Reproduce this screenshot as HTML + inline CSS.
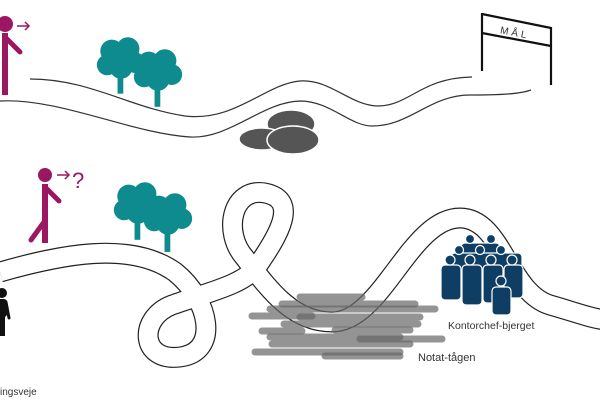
<!DOCTYPE html>
<html><head><meta charset="utf-8"><style>
html,body{margin:0;padding:0;background:#fff;}
svg{display:block;font-family:"Liberation Sans",sans-serif;}
</style></head><body>
<svg width="600" height="403" viewBox="0 0 600 403">
<!-- top road -->
<g fill="none" stroke="#333" stroke-width="1.2">
<path d="M30,79 C90,79 130,108 185,116 C235,122 265,84 300,81 C330,79 350,105 377,106 C410,106 420,78 472,77"/>
<path d="M0,101 C60,98 130,133 190,137 C230,139 262,102 300,101 C330,101 350,126 372,126 C410,126 430,95 470,95 C500,95 520,94 531,90"/>
</g>
<!-- sign -->
<g stroke="#111" stroke-width="2.2" fill="none">
<line x1="482" y1="13" x2="482" y2="71"/>
<line x1="551" y1="27" x2="551" y2="85"/>
<line x1="482" y1="14" x2="551" y2="28"/>
<line x1="482" y1="33" x2="551" y2="46"/>
</g>
<text x="515" y="36" font-size="10" fill="#333" letter-spacing="3" text-anchor="middle" transform="rotate(11 515 32)">MÅL</text>
<!-- rocks -->
<g fill="#555" stroke="#fff" stroke-width="1.5">
<ellipse cx="291" cy="124" rx="24" ry="14"/>
<ellipse cx="262" cy="139" rx="23" ry="11"/>
<ellipse cx="293" cy="140" rx="26" ry="14"/>
</g>
<!-- trees -->
<g fill="#0e8b8e">
<g transform="translate(121,58) scale(1.15)">
<circle cx="-8" cy="-6" r="10"/><circle cx="6" cy="-8" r="10"/><circle cx="12" cy="4" r="9"/><circle cx="-12" cy="6" r="9"/><circle cx="0" cy="8" r="10"/><circle cx="0" cy="-2" r="12"/>
<rect x="-3" y="10" width="5" height="21"/>
</g>
<g transform="translate(158,70) scale(1.15)">
<circle cx="-8" cy="-6" r="10"/><circle cx="6" cy="-8" r="10"/><circle cx="12" cy="4" r="9"/><circle cx="-12" cy="6" r="9"/><circle cx="0" cy="8" r="10"/><circle cx="0" cy="-2" r="12"/>
<rect x="-3" y="10" width="5" height="22"/>
</g>
<g transform="translate(138,203) scale(1.15)">
<circle cx="-8" cy="-6" r="10"/><circle cx="6" cy="-8" r="10"/><circle cx="12" cy="4" r="9"/><circle cx="-12" cy="6" r="9"/><circle cx="0" cy="8" r="10"/><circle cx="0" cy="-2" r="12"/>
<rect x="-3" y="10" width="5" height="22"/>
</g>
<g transform="translate(168,214) scale(1.15)">
<circle cx="-8" cy="-6" r="10"/><circle cx="6" cy="-8" r="10"/><circle cx="12" cy="4" r="9"/><circle cx="-12" cy="6" r="9"/><circle cx="0" cy="8" r="10"/><circle cx="0" cy="-2" r="12"/>
<rect x="-3" y="10" width="5" height="23"/>
</g>
</g>
<!-- person top -->
<g fill="#9b1762" stroke="#9b1762">
<circle cx="5" cy="24" r="8" stroke="none"/>
<line x1="5" y1="33" x2="5" y2="95" stroke-width="6"/>
<line x1="6" y1="38" x2="20" y2="52" stroke-width="5" stroke-linecap="round"/>
<g fill="none" stroke-width="1.5"><line x1="17" y1="26" x2="29" y2="26"/><polyline points="25,22 29,26 25,30"/></g>
</g>
<!-- person 2 -->
<g fill="#9b1762" stroke="#9b1762">
<circle cx="45" cy="175" r="7" stroke="none"/>
<line x1="45" y1="184" x2="45" y2="243" stroke-width="6"/>
<line x1="44" y1="222" x2="31" y2="240" stroke-width="5" stroke-linecap="round"/>
<line x1="46" y1="188" x2="59" y2="201" stroke-width="5" stroke-linecap="round"/>
<g fill="none" stroke-width="1.5"><line x1="57" y1="175" x2="69" y2="175"/><polyline points="65,171 69,175 65,179"/></g>
</g>
<text x="72" y="188" font-size="22" fill="#9b1762">?</text>
<!-- black person -->
<g fill="#111">
<circle cx="2" cy="293" r="5"/>
<rect x="-5" y="299" width="12" height="18" rx="3"/>
<rect x="-3" y="310" width="8" height="26"/>
<line x1="6" y1="302" x2="9" y2="318" stroke="#111" stroke-width="3" stroke-linecap="round"/>
</g>
<!-- lower road -->
<path d="M0,272 C60,255 130,240 175,272 C210,300 220,352 180,357 C140,362 138,318 172,305 C205,293 245,285 258,265 C278,236 300,200 265,193 C232,187 222,232 245,258 C268,288 292,322 332,322 C382,322 410,218 460,218 C502,218 508,292 550,305 C575,312 590,318 605,320" fill="none" stroke="#222" stroke-width="21"/>
<path d="M0,272 C60,255 130,240 175,272 C210,300 220,352 180,357 C140,362 138,318 172,305 C205,293 245,285 258,265 C278,236 300,200 265,193 C232,187 222,232 245,258 C268,288 292,322 332,322 C382,322 410,218 460,218 C502,218 508,292 550,305 C575,312 590,318 605,320" fill="none" stroke="#fff" stroke-width="18.6"/>
<!-- fog -->
<g stroke="#666" stroke-opacity="0.7" stroke-linecap="round" stroke-width="7">
<line x1="300" y1="297" x2="362" y2="297"/>
<line x1="282" y1="304" x2="415" y2="304"/>
<line x1="270" y1="309" x2="435" y2="309"/>
<line x1="252" y1="316" x2="312" y2="316"/>
<line x1="300" y1="317" x2="420" y2="317"/>
<line x1="284" y1="324" x2="418" y2="324"/>
<line x1="262" y1="331" x2="302" y2="331"/>
<line x1="335" y1="330" x2="410" y2="330"/>
<line x1="270" y1="337" x2="400" y2="337"/>
<line x1="360" y1="339" x2="442" y2="339"/>
<line x1="272" y1="344" x2="410" y2="344"/>
<line x1="255" y1="352" x2="400" y2="352"/>
<line x1="325" y1="356" x2="400" y2="356"/>
</g>
<!-- people group -->
<g fill="#0e3e63" stroke="#fff" stroke-width="1.2">
<rect x="461" y="243" width="39" height="14" rx="4"/>
<circle cx="470" cy="239" r="4.5"/><circle cx="491" cy="239" r="4.5"/>
<rect x="451" y="253" width="71" height="16" rx="4"/>
<circle cx="459" cy="250" r="4.5"/><circle cx="480" cy="250" r="4.5"/><circle cx="501" cy="250" r="4.5"/>
<rect x="441" y="265" width="20" height="35" rx="4"/>
<rect x="462" y="265" width="20" height="40" rx="4"/>
<rect x="483" y="265" width="20" height="38" rx="4"/>
<rect x="504" y="265" width="19" height="33" rx="4"/>
<circle cx="450" cy="260" r="5"/><circle cx="470" cy="260" r="5"/><circle cx="491" cy="260" r="5"/><circle cx="512" cy="260" r="5"/>
<rect x="492" y="287" width="19" height="28" rx="4"/>
<circle cx="501" cy="281" r="5"/>
</g>
<text x="448" y="329" font-size="10.5" fill="#333">Kontorchef-bjerget</text>
<text x="418" y="361" font-size="11" fill="#333">Notat-tågen</text>
<text x="0" y="395" font-size="10" fill="#333">ingsveje</text>
</svg>
</body></html>
